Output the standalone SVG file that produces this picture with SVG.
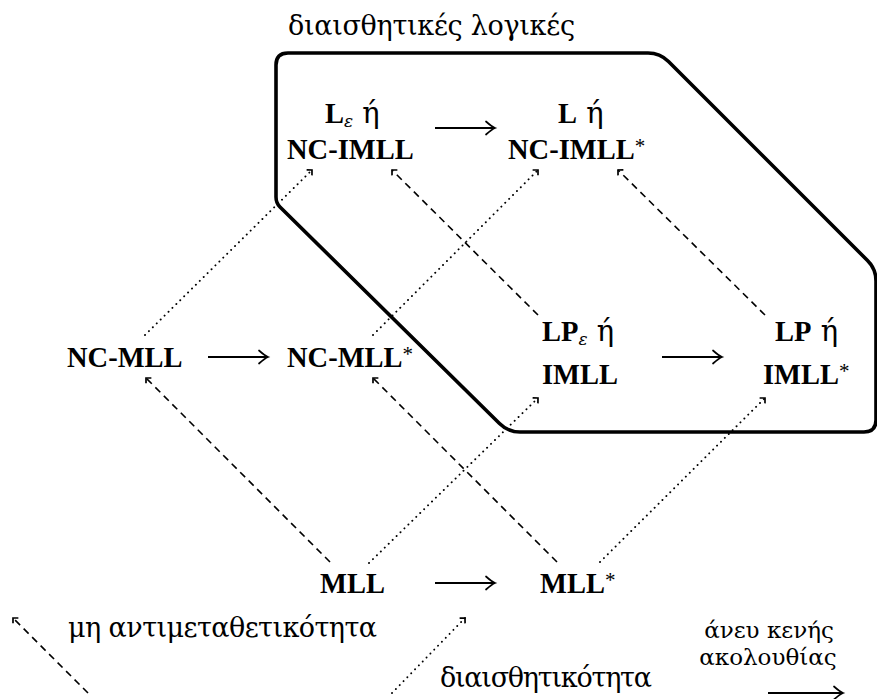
<svg xmlns="http://www.w3.org/2000/svg" width="877" height="699" viewBox="0 0 877 699">
  <style>
    .lbl { font-family: "Liberation Serif", "DejaVu Serif", serif; font-size: 28.5px; font-weight: bold; fill: #000; }
    .rm { font-family: "DejaVu Serif", serif; font-weight: normal; font-size: 29px; }
    .sub { font-family: "DejaVu Serif", serif; font-style: italic; font-weight: normal; font-size: 17px; }
    .star { font-weight: normal; font-size: 21px; }
    .gr { font-family: "DejaVu Serif", "Liberation Serif", serif; font-size: 27px; fill: #000; }
    .grs { font-family: "DejaVu Serif", "Liberation Serif", serif; font-size: 23px; fill: #000; text-anchor: middle; }
    .hull { fill: none; stroke: #000; stroke-width: 3.6; stroke-linejoin: round; }
    .solid { fill: none; stroke: #000; stroke-width: 1.8; marker-end: url(#to); }
    .dash { fill: none; stroke: #000; stroke-width: 1.6; stroke-dasharray: 7 5; marker-end: url(#tip); }
    .dot { fill: none; stroke: #000; stroke-width: 1.9; stroke-linecap: round; stroke-dasharray: 0.1 5.4; marker-end: url(#tip); }
  </style>
  <defs>
    <marker id="to" markerUnits="userSpaceOnUse" markerWidth="20" markerHeight="20" refX="0" refY="0" orient="auto" overflow="visible">
      <path d="M-9,-6.5 Q-3,-1.2 0,0 Q-3,1.2 -9,6.5" fill="none" stroke="#000" stroke-width="1.7" stroke-linecap="round"/>
    </marker>
    <marker id="tip" markerUnits="userSpaceOnUse" markerWidth="20" markerHeight="20" refX="0" refY="0" orient="auto" overflow="visible">
      <path d="M-3.8,-3.8 L0,0 L-3.8,3.8" fill="none" stroke="#000" stroke-width="1.7"/>
    </marker>
  </defs>
  <rect width="877" height="699" fill="#fff"/>

  <!-- region of the intuitionistic logics -->
  <g id="region">
    <path class="hull" d="M276,197 L276,65 Q276,53 288,53 L648,53 Q660,53 668.5,61.5 L867.5,260.5 Q876,269 876,281 L876,420 Q876,432 864,432 L520,432 Q508,432 499.5,423.5 L280,207 Q276,203 276,197 Z"/>
    <text class="gr" x="288" y="35" textLength="287" lengthAdjust="spacing">διαισθητικές λογικές</text>
  </g>

  <!-- nodes -->
  <g id="n-ncimll">
    <text class="lbl" x="325" y="123">L<tspan class="sub" dy="4">ε</tspan><tspan class="rm" dy="-4"> ή</tspan></text>
    <text class="lbl" x="287" y="159">NC-IMLL</text>
  </g>
  <g id="n-ncimll-star">
    <text class="lbl" x="558" y="123">L<tspan class="rm"> ή</tspan></text>
    <text class="lbl" x="508" y="159">NC-IMLL<tspan class="star" dy="-6">*</tspan></text>
  </g>
  <g id="n-ncmll">
    <text class="lbl" x="67" y="367">NC-MLL</text>
  </g>
  <g id="n-ncmll-star">
    <text class="lbl" x="287" y="367">NC-MLL<tspan class="star" dy="-6">*</tspan></text>
  </g>
  <g id="n-imll">
    <text class="lbl" x="542" y="341">LP<tspan class="sub" dy="4">ε</tspan><tspan class="rm" dy="-4"> ή</tspan></text>
    <text class="lbl" x="542" y="384">IMLL</text>
  </g>
  <g id="n-imll-star">
    <text class="lbl" x="775" y="341">LP<tspan class="rm"> ή</tspan></text>
    <text class="lbl" x="763" y="384">IMLL<tspan class="star" dy="-6">*</tspan></text>
  </g>
  <g id="n-mll">
    <text class="lbl" x="320" y="593">MLL</text>
  </g>
  <g id="n-mll-star">
    <text class="lbl" x="540" y="593">MLL<tspan class="star" dy="-6">*</tspan></text>
  </g>

  <!-- connectors -->
  <g id="connectors">
    <!-- without empty sequent -->
    <line class="solid" x1="435" y1="128" x2="495" y2="128"/>
    <line class="solid" x1="208" y1="357" x2="268" y2="357"/>
    <line class="solid" x1="662" y1="357" x2="722" y2="357"/>
    <line class="solid" x1="435" y1="583" x2="495" y2="583"/>
    <!-- non-commutativity -->
    <line class="dash" x1="330" y1="562" x2="146" y2="378"/>
    <line class="dash" x1="557" y1="562" x2="373" y2="378"/>
    <line class="dash" x1="538" y1="315" x2="392" y2="170"/>
    <line class="dash" x1="765" y1="315" x2="618" y2="170"/>
    <!-- intuitionism -->
    <line class="dot" x1="145" y1="335" x2="312" y2="170"/>
    <line class="dot" x1="373" y1="335" x2="538" y2="170"/>
    <line class="dot" x1="369" y1="563" x2="538" y2="398"/>
    <line class="dot" x1="600" y1="562" x2="765" y2="398"/>
  </g>

  <!-- legend -->
  <g id="legend">
    <line class="dash" x1="88" y1="693" x2="13" y2="618"/>
    <text class="gr" x="68" y="637" textLength="309" lengthAdjust="spacing">μη αντιμεταθετικότητα</text>
    <line class="dot" x1="392" y1="693" x2="465" y2="618"/>
    <text class="gr" x="440" y="687" textLength="212" lengthAdjust="spacing">διαισθητικότητα</text>
    <text class="grs" x="769" y="638">άνευ κενής</text>
    <text class="grs" x="768" y="665">ακολουθίας</text>
    <line class="solid" x1="768" y1="693" x2="843" y2="693"/>
  </g>
</svg>
